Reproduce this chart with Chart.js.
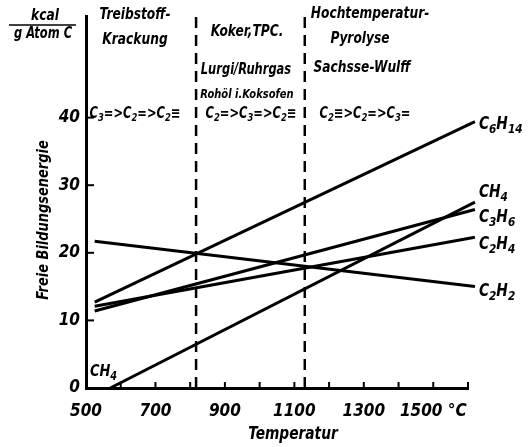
<!DOCTYPE html>
<html>
<head>
<meta charset="utf-8">
<script src="https://cdn.jsdelivr.net/npm/chart.js@4/dist/chart.umd.min.js"></script>
<style>
  html, body { margin: 0; padding: 0; background: #fff; }
  #wrap { width: 531px; height: 447px; position: relative; }
</style>
</head>
<body>
<div id="wrap"><canvas id="chart"></canvas></div>
<script>
const FONT = '"Liberation Sans Narrow", "DejaVu Sans Condensed", "Liberation Sans", sans-serif';

// free energy of formation, kcal / g Atom C (x in °C)
const c6h14 = [[525, 12.7], [1620, 39.4]];
const ch4 = [[570, 0], [1620, 27.5]];
const c3h6 = [[525, 11.4], [1620, 26.4]];
const c2h4 = [[525, 12.1], [1620, 22.3]];
const c2h2 = [[525, 21.7], [1620, 15.0]];
const seriesNames = ['C6H14', 'CH4', 'C3H6', 'C2H4', 'C2H2'];

// process regions split by the dashed lines
const regionBounds = [817, 1130];

const xTicks = [500, 600, 700, 800, 900, 1000, 1100, 1200, 1300, 1400, 1500, 1600];
const xTickLabels = { 500: '500', 700: '700', 900: '900', 1100: '1100', 1300: '1300', 1500: '1500 °C' };
const yTicks = [0, 10, 20, 30, 40];

const toPoints = arr => arr.map(p => ({ x: p[0], y: p[1] }));
const allSeries = [c6h14, ch4, c3h6, c2h4, c2h2];

const datasets = allSeries.map((s, i) => ({
  label: seriesNames[i],
  data: toPoints(s),
  borderColor: '#000',
  borderWidth: 3,
  pointRadius: 0,
  showLine: true,
  clip: false
}));
regionBounds.forEach(b => {
  datasets.push({
    label: 'bound ' + b,
    data: [{ x: b, y: 0 }, { x: b, y: 55 }],
    borderColor: '#000',
    borderWidth: 2.5,
    borderDash: [11, 7],
    pointRadius: 0,
    showLine: true
  });
});

// chemical formula with digits as subscripts, sx squeezes it horizontally
function drawChem(ctx, str, x, y, size, align, sx = 1) {
  const parts = str.match(/[0-9]+|[^0-9]+/g);
  const big = `italic bold ${size}px ${FONT}`;
  const small = `italic bold ${Math.round(size * 0.75)}px ${FONT}`;
  let w = 0;
  parts.forEach(p => { ctx.font = /[0-9]/.test(p) ? small : big; w += ctx.measureText(p).width; });
  let cx = align === 'center' ? -w / 2 : (align === 'right' ? -w : 0);
  ctx.save();
  ctx.translate(x, y);
  ctx.scale(sx, 1);
  ctx.textAlign = 'left';
  ctx.textBaseline = 'middle';
  parts.forEach(p => {
    const sub = /[0-9]/.test(p);
    ctx.font = sub ? small : big;
    ctx.fillText(p, cx, sub ? size * 0.3 : 0);
    cx += ctx.measureText(p).width;
  });
  ctx.restore();
}

function drawText(ctx, str, x, y, size, sx = 0.85, align = 'center') {
  ctx.save();
  ctx.translate(x, y);
  ctx.scale(sx, 1);
  ctx.font = `italic bold ${size}px ${FONT}`;
  ctx.textAlign = align;
  ctx.textBaseline = 'middle';
  ctx.fillText(str, 0, 0);
  ctx.restore();
}

const annotations = {
  id: 'annotations',
  afterDraw(chart) {
    const { ctx, scales: { x, y } } = chart;
    ctx.save();
    ctx.fillStyle = '#000';
    ctx.strokeStyle = '#000';

    // inside tick marks
    ctx.lineWidth = 2;
    xTicks.slice(1).forEach(v => {
      const px = x.getPixelForValue(v);
      ctx.beginPath(); ctx.moveTo(px, y.bottom); ctx.lineTo(px, y.bottom - 6); ctx.stroke();
    });
    yTicks.slice(1).forEach(v => {
      const py = y.getPixelForValue(v);
      ctx.beginPath(); ctx.moveTo(x.left, py); ctx.lineTo(x.left + 8, py); ctx.stroke();
    });

    // unit fraction
    drawText(ctx, 'kcal', 45, 16, 16);
    ctx.lineWidth = 1.5;
    ctx.beginPath(); ctx.moveTo(9, 25); ctx.lineTo(76, 25); ctx.stroke();
    drawText(ctx, 'g Atom C', 43, 34, 15);

    // region headings
    drawText(ctx, 'Treibstoff-', 135, 15, 16);
    drawText(ctx, 'Krackung', 135, 40, 16);
    drawText(ctx, 'Koker,TPC.', 247, 32, 16);
    drawText(ctx, 'Lurgi/Ruhrgas', 246, 70, 15);
    drawText(ctx, 'Rohöl i.Koksofen', 247, 95, 13);
    drawText(ctx, 'Hochtemperatur-', 370, 14, 16);
    drawText(ctx, 'Pyrolyse', 360, 39, 16);
    drawText(ctx, 'Sachsse-Wulff', 362, 68, 16);

    // reactivity order in each region
    drawChem(ctx, 'C3=>C2=>C2≡', 135, 114, 15, 'center', 0.85);
    drawChem(ctx, 'C2=>C3=>C2≡', 251, 114, 15, 'center', 0.85);
    drawChem(ctx, 'C2≡>C2=>C3=', 365, 114, 15, 'center', 0.85);

    // series names at line ends
    const labelDy = [3, -10, 8, 7, 5];
    allSeries.forEach((s, i) => {
      const last = s[s.length - 1];
      drawChem(ctx, seriesNames[i], x.getPixelForValue(last[0]) + 4, y.getPixelForValue(last[1]) + labelDy[i], 17, 'left', 0.9);
    });
    drawChem(ctx, 'CH4', 90, 372, 16, 'left', 0.9);

    // axis titles
    drawText(ctx, 'Temperatur', 293, 435, 17, 0.9);
    ctx.translate(44, 220);
    ctx.rotate(-Math.PI / 2);
    drawText(ctx, 'Freie Bildungsenergie', 0, 0, 16, 0.9);
    ctx.restore();
  }
};

new Chart(document.getElementById('chart'), {
  type: 'scatter',
  data: { datasets },
  options: {
    responsive: true,
    maintainAspectRatio: false,
    animation: false,
    layout: { padding: { left: 0, right: 63, top: 8, bottom: 0 } },
    plugins: { legend: { display: false }, tooltip: { enabled: false } },
    scales: {
      x: {
        type: 'linear',
        min: 500,
        max: 1600,
        afterFit: s => { s.height = 59; },
        afterBuildTicks: s => { s.ticks = xTicks.map(v => ({ value: v })); },
        grid: { display: false, drawTicks: false },
        border: { display: true, color: '#000', width: 3 },
        ticks: {
          autoSkip: false,
          maxRotation: 0,
          padding: 13,
          color: '#000',
          font: { family: FONT, size: 17, style: 'italic', weight: 'bold' },
          callback: v => xTickLabels[v] || ''
        }
      },
      y: {
        min: 0,
        max: 55,
        afterFit: s => { s.width = 86; },
        afterBuildTicks: s => { s.ticks = yTicks.map(v => ({ value: v })); },
        grid: { display: false, drawTicks: false },
        border: { display: true, color: '#000', width: 3 },
        ticks: {
          padding: 6,
          color: '#000',
          font: { family: FONT, size: 17, style: 'italic', weight: 'bold' }
        }
      }
    }
  },
  plugins: [annotations]
});
</script>
</body>
</html>
